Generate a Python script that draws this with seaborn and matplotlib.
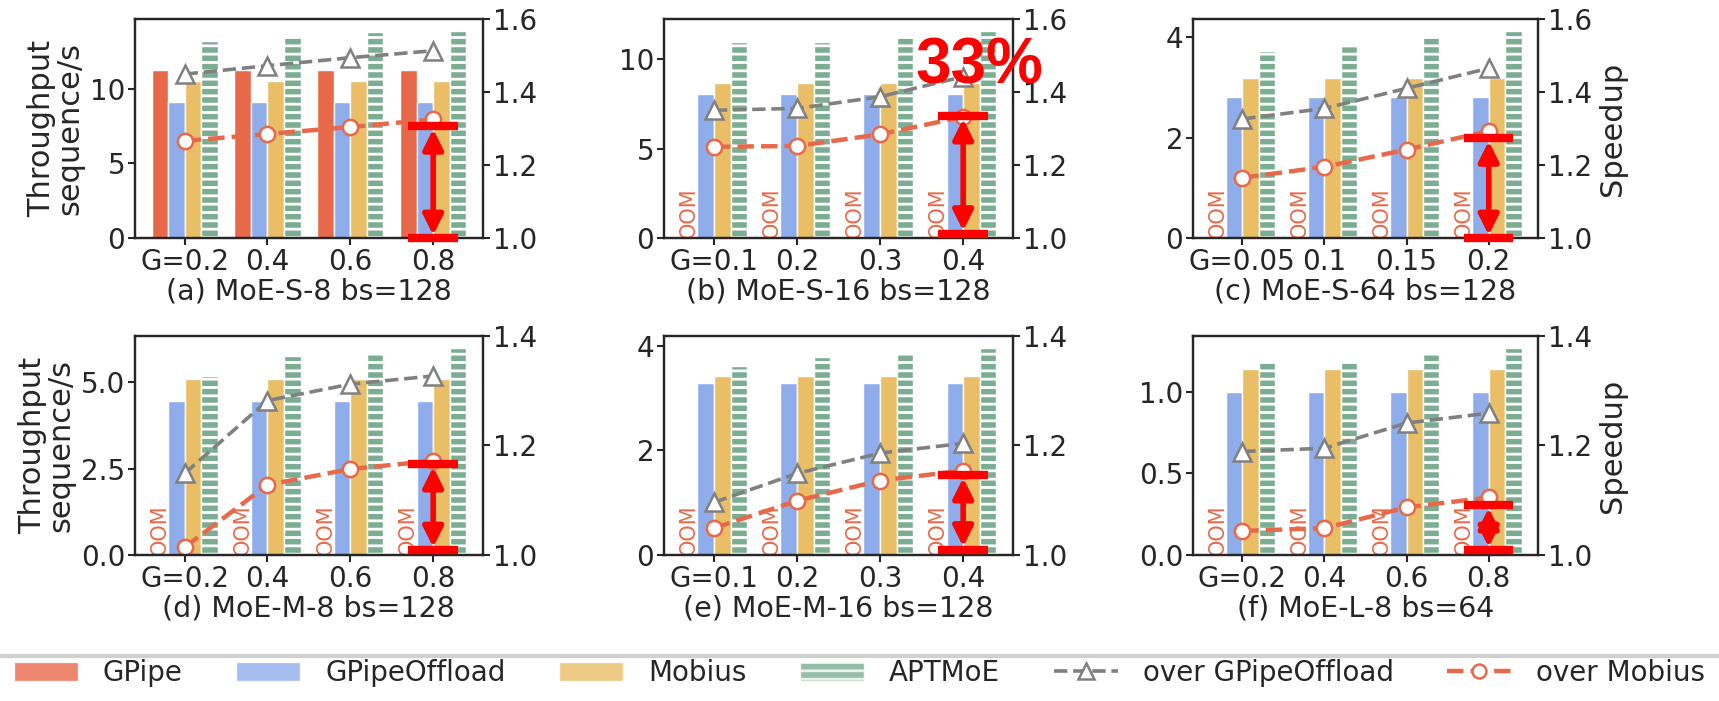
import numpy as np
import pandas as pd
import matplotlib
matplotlib.use('Agg')
import matplotlib.pyplot as plt
import seaborn as sns
from matplotlib.patches import Patch
from matplotlib.lines import Line2D
from matplotlib.colors import to_rgb

systems = ['GPipe', 'GPipeOffload', 'Mobius', 'APTMoE']
colors = ['#E8694A', '#8FADEB', '#E9BE66', '#7BAD92']
gray = '#808080'
orange = '#E8694A'

titles = ['(a) MoE-S-8 bs=128', '(b) MoE-S-16 bs=128', '(c) MoE-S-64 bs=128',
          '(d) MoE-M-8 bs=128', '(e) MoE-M-16 bs=128', '(f) MoE-L-8 bs=64']
g_labels = [['G=0.2', '0.4', '0.6', '0.8'],
            ['G=0.1', '0.2', '0.3', '0.4'],
            ['G=0.05', '0.1', '0.15', '0.2'],
            ['G=0.2', '0.4', '0.6', '0.8'],
            ['G=0.1', '0.2', '0.3', '0.4'],
            ['G=0.2', '0.4', '0.6', '0.8']]

nan = np.nan
# throughput (sequence/s), NaN = OOM
gpipe_thr = [[11.25, 11.25, 11.25, 11.25],
             [nan, nan, nan, nan],
             [nan, nan, nan, nan],
             [nan, nan, nan, nan],
             [nan, nan, nan, nan],
             [nan, nan, nan, nan]]
offload_thr = [[9.1, 9.1, 9.1, 9.1],
               [8.07, 8.07, 8.07, 8.07],
               [2.81, 2.81, 2.81, 2.81],
               [4.47, 4.47, 4.47, 4.47],
               [3.28, 3.28, 3.28, 3.28],
               [1.0, 1.0, 1.0, 1.0]]
mobius_thr = [[10.5, 10.5, 10.5, 10.5],
              [8.69, 8.69, 8.69, 8.69],
              [3.2, 3.2, 3.2, 3.2],
              [5.1, 5.1, 5.1, 5.1],
              [3.42, 3.42, 3.42, 3.42],
              [1.14, 1.14, 1.14, 1.14]]
aptmoe_thr = [[13.2, 13.55, 13.8, 13.85],
              [10.98, 10.98, 11.26, 11.56],
              [3.73, 3.83, 4.0, 4.12],
              [5.17, 5.77, 5.87, 5.98],
              [3.61, 3.78, 3.88, 3.95],
              [1.18, 1.19, 1.245, 1.265]]

# speedup of APTMoE
speedup_offload = [[1.449, 1.472, 1.494, 1.513],
                   [1.350, 1.355, 1.387, 1.442],
                   [1.326, 1.355, 1.410, 1.465],
                   [1.149, 1.282, 1.312, 1.327],
                   [1.096, 1.149, 1.186, 1.204],
                   [1.189, 1.195, 1.241, 1.259]]
speedup_mobius = [[1.266, 1.285, 1.304, 1.325],
                  [1.250, 1.252, 1.284, 1.332],
                  [1.165, 1.195, 1.242, 1.293],
                  [1.014, 1.128, 1.157, 1.172],
                  [1.049, 1.099, 1.136, 1.154],
                  [1.044, 1.049, 1.087, 1.105]]

left_ticks = [[0, 5, 10], [0, 5, 10], [0, 2, 4], [0.0, 2.5, 5.0], [0, 2, 4], [0.0, 0.5, 1.0]]
left_ticklabels = [['0', '5', '10'], ['0', '5', '10'], ['0', '2', '4'],
                   ['0.0', '2.5', '5.0'], ['0', '2', '4'], ['0.0', '0.5', '1.0']]
right_ticks = [[1.0, 1.2, 1.4, 1.6], [1.0, 1.2, 1.4]]

# highlighted gain at the last G
gap_bottom = [1.0, 1.012, 1.0, 1.009, 1.01, 1.009]
gap_top = [1.306, 1.334, 1.273, 1.166, 1.146, 1.091]

sns.set_style('ticks')
plt.rcParams['font.family'] = ['DejaVu Sans']
plt.rcParams['hatch.linewidth'] = 2.0
plt.rcParams['axes.linewidth'] = 1.6

fig = plt.figure(figsize=(17.19, 7.01), dpi=100)
lefts = [0.0785, 0.3863, 0.694]
widths = [0.2024, 0.2030, 0.2007]
bottoms = [0.6605, 0.2083]
h = 0.3124
green_rgb = to_rgb(colors[3])

for k in range(6):
    r, c = divmod(k, 3)
    ax = fig.add_axes([lefts[c], bottoms[r], widths[c], h])
    df = pd.DataFrame({
        'G': g_labels[k] * 4,
        'system': np.repeat(systems, 4),
        'thr': np.concatenate([gpipe_thr[k], offload_thr[k], mobius_thr[k], aptmoe_thr[k]]),
    })
    sns.barplot(data=df, x='G', y='thr', hue='system', hue_order=systems, order=g_labels[k],
                palette=dict(zip(systems, colors)), saturation=1, errorbar=None,
                edgecolor='white', linewidth=1, legend=False, ax=ax)
    for p in ax.patches:
        if np.allclose(p.get_facecolor()[:3], green_rgb):
            p.set_hatch('--')

    # OOM marks for GPipe
    for i in range(4):
        if np.isnan(gpipe_thr[k][i]):
            ax.text(i - 0.3, 0, 'OOM', rotation=90, ha='center', va='bottom',
                    color=orange, fontsize=15)

    ymax = np.nanmax(aptmoe_thr[k]) * 1.06
    ax.set_ylim(0, ymax)
    ax.set_yticks(left_ticks[k])
    ax.set_yticklabels(left_ticklabels[k])
    ax.set_xlim(-0.6, 3.6)
    ax.set_xlabel(titles[k], fontsize=20.5, labelpad=1)
    ax.set_ylabel('')
    ax.tick_params(labelsize=20, length=5, width=1.5, pad=2)
    if c == 0:
        ax.set_ylabel('Throughput\nsequence/s', fontsize=22, linespacing=0.95)

    ax2 = ax.twinx()
    x = np.arange(4)
    sns.lineplot(x=x, y=speedup_offload[k], ax=ax2, color=gray, linestyle='--', linewidth=2.6,
                 marker='^', markersize=13, markerfacecolor='white', markeredgecolor=gray,
                 markeredgewidth=1.8)
    sns.lineplot(x=x, y=speedup_mobius[k], ax=ax2, color=orange, linestyle='--', linewidth=3.2,
                 marker='o', markersize=11, markerfacecolor='white', markeredgecolor=orange,
                 markeredgewidth=1.8)
    ax2.set_ylim(right_ticks[r][0], right_ticks[r][-1])
    ax2.set_yticks(right_ticks[r])
    ax2.set_yticklabels([f'{t:.1f}' for t in right_ticks[r]])
    ax2.tick_params(labelsize=20, length=5, width=1.5, pad=2)
    ax.set_xlim(-0.6, 3.6)
    if c == 2:
        ax2.set_ylabel('Speedup', fontsize=22)

    ax2.hlines([gap_bottom[k], gap_top[k]], 2.7, 3.3, color='red', lw=6, clip_on=False, zorder=5)
    ax2.annotate('', xy=(3, gap_top[k]), xytext=(3, gap_bottom[k]),
                 arrowprops=dict(arrowstyle='<|-|>', color='red', lw=4, mutation_scale=30,
                                 shrinkA=2, shrinkB=2))
    if k == 1:
        ax2.text(3.2, 1.47, '33%', color='red', fontsize=46, fontweight='bold',
                 family='Liberation Sans', ha='center', va='center', clip_on=False, zorder=6)

# separator line above legend
fig.add_artist(Line2D([0, 1], [1 - 656 / 701] * 2, transform=fig.transFigure,
                      color='#d0d0d0', lw=3))

handles = [Patch(facecolor=colors[0], alpha=0.8),
           Patch(facecolor=colors[1], alpha=0.8),
           Patch(facecolor=colors[2], alpha=0.8),
           Patch(facecolor=colors[3], edgecolor='white', hatch='--', alpha=0.8),
           Line2D([], [], color=gray, linestyle='--', lw=2.6, marker='^', markersize=11,
                  markerfacecolor='white', markeredgecolor=gray, markeredgewidth=1.8),
           Line2D([], [], color=orange, linestyle='--', lw=3.2, marker='o', markersize=10,
                  markerfacecolor='white', markeredgecolor=orange, markeredgewidth=1.8)]
labels = ['GPipe', 'GPipeOffload', 'Mobius', 'APTMoE', 'over GPipeOffload', 'over Mobius']
fig.legend(handles, labels, loc='lower left', bbox_to_anchor=(0.0, 0.0, 1.0, 0.075), mode='expand',
           ncol=6, frameon=False, prop={'family': 'Liberation Sans Narrow', 'size': 20},
           handlelength=2.3, handletextpad=0.9, borderaxespad=0.1)

fig.savefig('out.png', dpi=100)
